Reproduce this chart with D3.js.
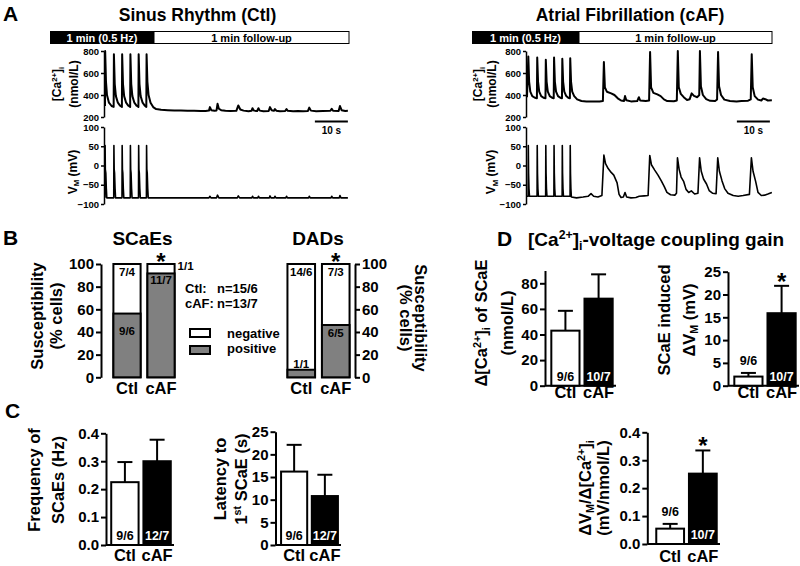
<!DOCTYPE html>
<html><head><meta charset="utf-8">
<script src="https://cdn.jsdelivr.net/npm/d3@7"></script>
<style>
body{margin:0;background:#fff;}
svg{display:block;}
</style></head><body>
<svg id="c" width="800" height="566"></svg>
<script>
// ---------------- DATA ----------------
const groups = ['Ctl', 'cAF'];
const traceTicksCa = [200, 400, 600, 800];
const traceTicksVm = [-100, -50, 0, 50, 100];
// [time s, value]
const ctlCa = [[0,300],[0.05,800],[0.3,520],[0.6,400],[1.2,330],[2.0,300],[2.62,292],
 [2.7,770],[2.95,500],[3.3,390],[3.9,330],[4.6,302],[5.12,292],
 [5.2,770],[5.45,500],[5.8,390],[6.4,330],[7.1,302],[7.62,292],
 [7.7,770],[7.95,500],[8.3,390],[8.9,330],[9.6,302],[10.12,292],
 [10.2,770],[10.45,500],[10.8,390],[11.4,330],[12.1,302],[12.52,292],
 [12.6,770],[12.85,520],[13.2,400],[13.8,330],[14.6,290],[15.5,272],[17,265],[19,262],[21,258],[23,260],[25,256],[27,257],[29,254],[30.5,255],
 [31.5,258],[31.8,290],[32.2,262],[33.2,256],[33.8,260],[34.1,320],[34.5,275],[35.2,262],[36.5,256],[38,254],[39.8,256],[40.4,305],[41,268],[42,258],[43.5,252],[44.4,256],[44.7,280],[45.1,258],[46.1,255],[46.5,280],[46.9,258],[48,252],[49.6,255],[50,290],[50.5,262],[51.2,256],[51.5,272],[51.9,257],[53,252],[54.6,254],[55,272],[55.4,256],[57,252],[58.5,254],[60,252],[61.5,255],[61.9,285],[62.4,258],[64,252],[66,254],[68.3,256],[68.7,275],[69.1,256],[70.8,255],[71.2,300],[71.7,262],[72.8,255],[73.6,256]];
const ctlVm = [[0,-84],[0.03,52],[0.1,-10],[0.25,-20],[0.4,-60],[0.55,-84],
 [2.65,-84],[2.7,52],[2.78,-10],[2.9,-20],[3.05,-60],[3.2,-84],
 [5.15,-84],[5.2,52],[5.28,-10],[5.4,-20],[5.55,-60],[5.7,-84],
 [7.65,-84],[7.7,52],[7.78,-10],[7.9,-20],[8.05,-60],[8.2,-84],
 [10.15,-84],[10.2,52],[10.28,-10],[10.4,-20],[10.55,-60],[10.7,-84],
 [12.55,-84],[12.6,52],[12.68,-10],[12.8,-20],[12.95,-60],[13.1,-84],
 [20,-84],[31.5,-84],[31.8,-80],[32.1,-84],[33.8,-84],[34.1,-77],[34.5,-84],[40.1,-84],[40.4,-79],[40.8,-84],[44.5,-84],[44.7,-80],[45,-84],[46.3,-84],[46.5,-80],[46.8,-84],[49.8,-84],[50,-79],[50.3,-84],[51.3,-84],[51.5,-80],[51.8,-84],[54.8,-84],[55,-80],[55.3,-84],[61.7,-84],[61.9,-80],[62.2,-84],[68.5,-84],[68.7,-80],[69,-84],[71,-84],[71.2,-78],[71.5,-84],[73.6,-84]];
const cafCa = [[0,380],[0.4,750],[0.65,520],[1.0,430],[1.6,390],[2.4,375],[3.0,370],
 [3.1,740],[3.35,520],[3.7,430],[4.3,390],[5.0,375],[5.6,370],
 [5.7,720],[5.95,520],[6.3,430],[6.9,390],[7.6,375],[8.1,370],
 [8.2,740],[8.45,520],[8.8,430],[9.4,390],[10.1,375],[10.6,370],
 [10.7,730],[10.95,520],[11.3,430],[11.9,390],[12.5,375],[13.0,370],
 [13.1,735],[13.35,520],[13.7,430],[14.3,390],[15.2,360],[16.5,345],[18,342],[20,340],[22,342],[23.0,345],
 [23.3,700],[23.6,470],[24.2,430],[25.5,415],[26.5,400],[27.5,370],[28.5,350],[29.4,345],[29.7,390],[30.1,352],[31.5,342],[33.4,345],[33.9,380],[34.3,350],[36.0,345],[37.0,350],
 [37.3,790],[37.6,470],[38.3,420],[39.5,405],[40.5,390],[41.5,360],[42.5,345],[44.5,343],[45.4,350],
 [45.7,800],[46.0,470],[46.6,410],[47.5,380],[48.5,355],[49.3,362],[49.9,415],[50.6,392],[51.6,380],[52.2,400],
 [52.4,800],[52.7,480],[53.3,400],[54.3,362],[55.5,347],[57.0,345],[57.6,360],
 [57.9,790],[58.2,480],[58.8,400],[59.8,358],[61.5,345],[63.5,342],[65.0,345],[67.0,348],[67.8,360],
 [68.1,770],[68.4,470],[69.0,390],[70.0,358],[71.0,350],[71.5,368],[72.2,362],[73.0,350],[74.2,352]];
const cafVm = [[0,-80],[0.35,-80],[0.4,52],[0.48,-20],[0.6,-60],[0.75,-80],
 [3.05,-80],[3.1,52],[3.18,-20],[3.3,-60],[3.45,-80],
 [5.65,-80],[5.7,52],[5.78,-20],[5.9,-60],[6.05,-80],
 [8.15,-80],[8.2,52],[8.28,-20],[8.4,-60],[8.55,-80],
 [10.65,-80],[10.7,52],[10.78,-20],[10.9,-60],[11.05,-80],
 [13.05,-80],[13.1,52],[13.18,-20],[13.3,-60],[13.45,-82],
 [15,-84],[17,-82],[18.5,-80],[19.4,-73],[20.2,-80],[21.5,-82],[22.7,-78],
 [23.3,27],[23.8,5],[24.6,-8],[25.5,-18],[26.3,-25],[27.3,-45],[27.9,-75],[28.5,-83],[29.2,-82],[29.7,-70],[30.2,-82],[31.5,-84],[33,-83],[34,-80],[35.5,-79],[36.7,-78],
 [37.2,26],[37.7,2],[38.7,-12],[39.7,-25],[40.7,-40],[41.6,-55],[42.4,-70],[43.5,-76],[44.8,-77],[45.3,-72],
 [45.6,20],[46.1,-10],[46.7,-30],[47.5,-42],[48.2,-62],[49,-70],[49.8,-66],[50.8,-74],[51.8,-72],
 [52.3,20],[52.8,-15],[53.5,-35],[54.4,-48],[55.2,-65],[56.2,-72],[57.3,-73],
 [57.8,20],[58.3,-15],[59.1,-40],[59.9,-60],[60.9,-72],[62.5,-78],[64,-80],[65.5,-78],[67.4,-75],
 [68.0,20],[68.5,-15],[69.3,-42],[70.0,-70],[71,-78],[72,-77],[73,-74],[74.2,-70]];
const scaleBarStart = 63.6, scaleBarLen = 10;

// B: susceptibility (% cells positive)
const scaePos = [56.25, 91.67];
const scaeNegLabels = ['7/4', '1/1'];
const scaePosLabels = ['9/6', '11/7'];
const dadPos = [6.67, 46.15];
const dadNegLabels = ['14/6', '7/3'];
const dadPosLabels = ['1/1', '6/5'];
const suscTicks = [0, 20, 40, 60, 80, 100];

// C
const freqMean = [0.225, 0.300], freqErr = [0.072, 0.077];
const latMean = [16.2, 10.8], latErr = [5.9, 4.7];
const nC = ['9/6', '12/7'];
// D
const dCaMean = [43, 68], dCaErr = [15.5, 19];
const dVmMean = [2.0, 15.9], dVmErr = [0.8, 6.0];
const gainMean = [0.055, 0.252], gainErr = [0.017, 0.083];
const nD = ['9/6', '10/7'];

// ---------------- DRAW ----------------
const FONT = 'Arial, "Liberation Sans", Helvetica, sans-serif';
const svg = d3.select('#c').attr('font-family', FONT).attr('font-weight', 'bold');

function rich(sel, parts, size) {
  let shift = 0;
  parts.forEach(p => {
    const t = p[0], m = p[1] || '';
    const ts = sel.append('tspan').text(t);
    const target = m === 'sup' ? -0.38 * size : m === 'sub' ? 0.22 * size : 0;
    ts.attr('dy', target - shift);
    shift = target;
    if (m) ts.attr('font-size', size * 0.65);
  });
}
function label(x, y, parts, size, opts = {}) {
  const rot = opts.rot || 0, anchor = opts.anchor || 'middle';
  const t = svg.append('text')
    .attr('transform', `translate(${x},${y}) rotate(${rot})`)
    .attr('text-anchor', anchor).attr('font-size', size)
    .attr('fill', opts.fill || '#000')
    .attr('y', opts.center === false ? 0 : 0.35 * size);
  if (typeof parts === 'string') t.text(parts); else rich(t, parts, size);
  return t;
}
function styleAxis(a, sw, fs) {
  a.attr('font-family', null).attr('font-size', null);
  a.select('.domain').attr('stroke', '#000').attr('stroke-width', sw);
  a.selectAll('.tick line').attr('stroke', '#000').attr('stroke-width', sw);
  a.selectAll('.tick text').attr('font-size', fs).attr('fill', '#000');
}

// ---------- Panel A ----------
label(3, 21, 'A', 21, {anchor: 'start', center: false});
function tracePanel(cfg) {
  const x = d3.scaleLinear().domain([0, 74]).range([cfg.x0, cfg.x0 + 3.3 * 74]);
  const yCa = d3.scaleLinear().domain([200, 800]).range([117, 51]);
  const yVm = d3.scaleLinear().domain([-100, 100]).range([204, 127]);
  label(cfg.titleX, 21, cfg.title, 17.5, {center: false});
  // protocol bar
  svg.append('rect').attr('x', cfg.bar0).attr('y', 31).attr('width', cfg.bar1 - cfg.bar0).attr('height', 13).attr('fill', '#000');
  svg.append('rect').attr('x', cfg.bar1).attr('y', 31.5).attr('width', cfg.bar2 - cfg.bar1).attr('height', 12).attr('fill', '#fff').attr('stroke', '#000').attr('stroke-width', 1);
  label((cfg.bar0 + cfg.bar1) / 2, 41.5, '1 min (0.5 Hz)', 11, {center: false, fill: '#fff'});
  label((cfg.bar1 + cfg.bar2) / 2, 41.5, '1 min follow-up', 11, {center: false});
  const ax1 = svg.append('g').attr('transform', `translate(${cfg.x0 - 1},0)`)
    .call(d3.axisLeft(yCa).tickValues(traceTicksCa).tickSize(3).tickSizeOuter(0).tickPadding(2));
  styleAxis(ax1, 1.5, 9.5);
  const ax2 = svg.append('g').attr('transform', `translate(${cfg.x0 - 1},0)`)
    .call(d3.axisLeft(yVm).tickValues(traceTicksVm).tickSize(3).tickSizeOuter(0).tickPadding(2));
  styleAxis(ax2, 1.5, 9.5);
  const lCa = d3.line().x(d => x(d[0])).y(d => yCa(d[1]));
  const lVm = d3.line().x(d => x(d[0])).y(d => yVm(d[1]));
  svg.append('path').attr('d', lCa(cfg.ca)).attr('fill', 'none').attr('stroke', '#000').attr('stroke-width', 2).attr('stroke-linejoin', 'round');
  svg.append('path').attr('d', lVm(cfg.vm)).attr('fill', 'none').attr('stroke', '#000').attr('stroke-width', 1.6).attr('stroke-linejoin', 'round');
  // scale bar
  svg.append('line').attr('x1', x(scaleBarStart)).attr('x2', x(scaleBarStart + scaleBarLen)).attr('y1', 121.5).attr('y2', 121.5).attr('stroke', '#000').attr('stroke-width', 2);
  label(x(scaleBarStart + scaleBarLen / 2), 134, '10 s', 10, {center: false});
  // y labels
  label(cfg.labCa1, 84, [['[Ca'], ['2+', 'sup'], [']'], ['i', 'sub']], 12, {rot: -90});
  label(cfg.labCa2, 84, '(nmol/L)', 12, {rot: -90});
  label(cfg.labVm, 172, [['V'], ['M', 'sub'], [' (mV)']], 12, {rot: -90});
}
tracePanel({x0: 105, title: 'Sinus Rhythm (Ctl)', titleX: 197.5, bar0: 50, bar1: 154, bar2: 349,
  ca: ctlCa, vm: ctlVm, labCa1: 57, labCa2: 73.5, labVm: 72.5});
tracePanel({x0: 527, title: 'Atrial Fibrillation (cAF)', titleX: 630, bar0: 472, bar1: 579, bar2: 772,
  ca: cafCa, vm: cafVm, labCa1: 478, labCa2: 492, labVm: 491});

// ---------- Panel B ----------
label(3, 245, 'B', 21, {anchor: 'start', center: false});
label(142.5, 245, 'SCaEs', 19, {center: false});
label(318, 245, 'DADs', 19, {center: false});
const yS = d3.scaleLinear().domain([0, 100]).range([377.3, 264]);
function stacked(cfg) {
  const xb = d3.scaleBand().domain(groups).range(cfg.range).paddingInner(0.2).paddingOuter(0.1);
  const ax = svg.append('g').attr('transform', `translate(${cfg.axisX},0)`)
    .call((cfg.side === 'right' ? d3.axisRight(yS) : d3.axisLeft(yS)).tickValues(suscTicks).tickSize(5).tickSizeOuter(0).tickPadding(2));
  styleAxis(ax, 2, 15);
  groups.forEach((g, i) => {
    const bx = xb(g), bw = xb.bandwidth();
    svg.append('rect').attr('x', bx).attr('y', yS(100)).attr('width', bw).attr('height', yS(0) - yS(100)).attr('fill', '#fff').attr('stroke', '#000').attr('stroke-width', 2);
    svg.append('rect').attr('x', bx).attr('y', yS(cfg.pos[i])).attr('width', bw).attr('height', yS(0) - yS(cfg.pos[i])).attr('fill', '#808080').attr('stroke', '#000').attr('stroke-width', 2);
    label(bx + bw / 2, 394, g, 16.5, {center: false});
  });
  return xb;
}
const BL = 11.5;
const xS1 = stacked({range: [110, 178], axisX: 101, pos: scaePos});
label(xS1('Ctl') + xS1.bandwidth() / 2, 276, scaeNegLabels[0], BL, {center: false});
label(xS1('Ctl') + xS1.bandwidth() / 2, 335, scaePosLabels[0], BL, {center: false});
label(xS1('cAF') + xS1.bandwidth() / 2, 284, scaePosLabels[1], BL, {center: false});
label(xS1('cAF') + xS1.bandwidth() + 3, 270, scaeNegLabels[1], BL, {center: false, anchor: 'start'});
label(xS1('cAF') + xS1.bandwidth() / 2, 270, '*', 24, {center: false});
const xS2 = stacked({range: [284, 353], axisX: 355, pos: dadPos, side: 'right'});
label(xS2('Ctl') + xS2.bandwidth() / 2, 276, dadNegLabels[0], BL, {center: false});
label(xS2('Ctl') + xS2.bandwidth() / 2, 368, dadPosLabels[0], BL, {center: false});
label(xS2('cAF') + xS2.bandwidth() / 2, 276, dadNegLabels[1], BL, {center: false});
label(xS2('cAF') + xS2.bandwidth() / 2, 337, dadPosLabels[1], BL, {center: false});
label(xS2('cAF') + xS2.bandwidth() / 2, 270, '*', 24, {center: false});
// legend
label(185, 293, 'Ctl:', 13, {center: false, anchor: 'start'});
label(217, 293, 'n=15/6', 13, {center: false, anchor: 'start'});
label(185, 308, 'cAF:', 13, {center: false, anchor: 'start'});
label(217, 308, 'n=13/7', 13, {center: false, anchor: 'start'});
svg.append('rect').attr('x', 190).attr('y', 329).attr('width', 20).attr('height', 8).attr('fill', '#fff').attr('stroke', '#000').attr('stroke-width', 2);
svg.append('rect').attr('x', 190).attr('y', 346).attr('width', 20).attr('height', 8).attr('fill', '#808080').attr('stroke', '#000').attr('stroke-width', 2);
label(227, 338, 'negative', 13, {center: false, anchor: 'start'});
label(227, 353, 'positive', 13, {center: false, anchor: 'start'});
// y labels
label(37.5, 316, 'Susceptibility', 16.5, {rot: -90});
label(56.5, 316, '(% cells)', 16.5, {rot: -90});
label(421, 318, 'Susceptibility', 16.5, {rot: 90});
label(406, 318, '(% cells)', 16.5, {rot: 90});

// ---------- bar chart helper ----------
function barChart(cfg) {
  const y = d3.scaleLinear().domain(cfg.domain).range(cfg.yr);
  const xb = d3.scaleBand().domain(groups).range(cfg.range).paddingInner(0.15).paddingOuter(0.1);
  const ax = svg.append('g').attr('transform', `translate(${cfg.axisX},0)`)
    .call(d3.axisLeft(y).tickValues(cfg.ticks).tickFormat(cfg.fmt).tickSize(5).tickSizeOuter(0).tickPadding(2));
  styleAxis(ax, 2, 15);
  svg.append('line').attr('x1', cfg.axisX).attr('x2', cfg.range[1]).attr('y1', y(0)).attr('y2', y(0)).attr('stroke', '#000').attr('stroke-width', 2);
  groups.forEach((g, i) => {
    const bx = xb(g), bw = xb.bandwidth(), cx = bx + bw / 2;
    const top = y(cfg.mean[i] + cfg.err[i]);
    svg.append('line').attr('x1', cx).attr('x2', cx).attr('y1', y(cfg.mean[i])).attr('y2', top).attr('stroke', '#000').attr('stroke-width', 2);
    svg.append('line').attr('x1', cx - 7.5).attr('x2', cx + 7.5).attr('y1', top).attr('y2', top).attr('stroke', '#000').attr('stroke-width', 2);
    svg.append('rect').attr('x', bx).attr('y', y(cfg.mean[i])).attr('width', bw).attr('height', y(0) - y(cfg.mean[i]))
      .attr('fill', i === 0 ? '#fff' : '#000').attr('stroke', '#000').attr('stroke-width', 2);
    label(cx, cfg.xlabY, g, 16.5, {center: false});
    if (cfg.nAbove && cfg.nAbove[i]) label(cx, top - 8, cfg.n[i], 12.5, {center: false});
    else label(cx, y(0) - 5, cfg.n[i], 12.5, {center: false, fill: i === 0 ? '#000' : '#fff'});
    if (cfg.star && cfg.star[i]) label(cx, top + 4, '*', 24, {center: false});
  });
  cfg.ylab.forEach(l => label(l[0], cfg.ylabY, l[1], 16.5, {rot: -90}));
}

// ---------- Panel C ----------
label(5, 418, 'C', 21, {anchor: 'start', center: false});
barChart({domain: [0, 0.4], yr: [545, 433.3], range: [108, 174], axisX: 106, ticks: [0, 0.1, 0.2, 0.3, 0.4], fmt: d3.format('.1f'),
  mean: freqMean, err: freqErr, n: nC, xlabY: 561, ylabY: 480,
  ylab: [[34, 'Frequency of'], [58.5, 'SCaEs (Hz)']]});
barChart({domain: [0, 25], yr: [545, 431.7], range: [278, 341], axisX: 275.5, ticks: [0, 5, 10, 15, 20, 25], fmt: d3.format('d'),
  mean: latMean, err: latErr, n: nC, xlabY: 561, ylabY: 479,
  ylab: [[220, 'Latency to'], [241.5, [['1'], ['st', 'sup'], [' SCaE (s)']]]]});

// ---------- Panel D ----------
label(497, 246, 'D', 21, {anchor: 'start', center: false});
label(528, 246, [['[Ca'], ['2+', 'sup'], [']'], ['i', 'sub'], ['-voltage coupling gain']], 19, {anchor: 'start', center: false});
barChart({domain: [0, 90], yr: [385.7, 270.5], range: [548, 616], axisX: 545, ticks: [0, 20, 40, 60, 80], fmt: d3.format('d'),
  mean: dCaMean, err: dCaErr, n: nD, xlabY: 398, ylabY: 323,
  ylab: [[481, [['Δ[Ca'], ['2+', 'sup'], [']'], ['i', 'sub'], [' of SCaE']]], [507, '(nmol/L)']]});
barChart({domain: [0, 25], yr: [385.7, 271.7], range: [731, 799], axisX: 728, ticks: [0, 5, 10, 15, 20, 25], fmt: d3.format('d'),
  mean: dVmMean, err: dVmErr, n: nD, xlabY: 398, ylabY: 320, nAbove: [true, false], star: [false, true],
  ylab: [[664, 'SCaE induced'], [689, [['ΔV'], ['M', 'sub'], [' (mV)']]]]});
barChart({domain: [0, 0.4], yr: [544, 432.3], range: [653, 720], axisX: 647.3, ticks: [0, 0.1, 0.2, 0.3, 0.4], fmt: d3.format('.1f'),
  mean: gainMean, err: gainErr, n: nD, xlabY: 562, ylabY: 488, nAbove: [true, false], star: [false, true],
  ylab: [[585, [['ΔV'], ['M', 'sub'], ['/Δ[Ca'], ['2+', 'sup'], [']'], ['i', 'sub']]], [603.5, '(mV/nmol/L)']]});
</script>
</body></html>
